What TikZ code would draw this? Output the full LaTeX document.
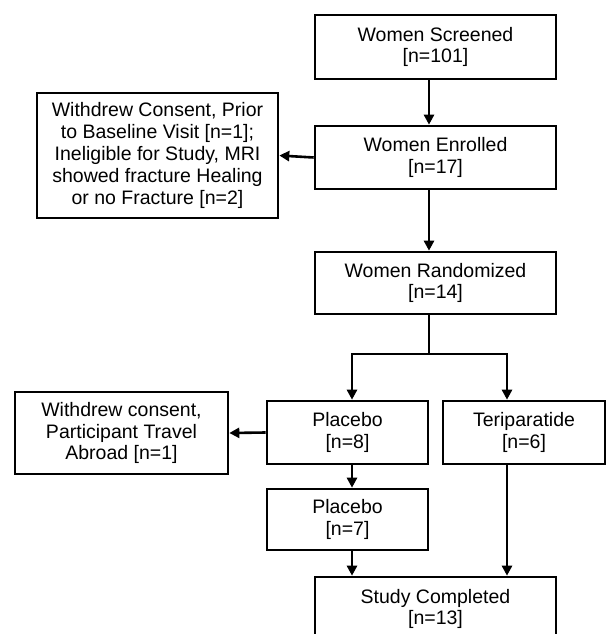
\documentclass[tikz,border=0pt]{standalone}
\usepackage{fontspec}
\setmainfont{Liberation Sans}
\usetikzlibrary{arrows.meta}
\begin{document}
\begin{tikzpicture}[x=1pt,y=-1pt,
  box/.style={draw=black,line width=2.6pt,rectangle,align=center,inner sep=0pt,
    font=\fontsize{19.5}{21.8}\selectfont},
  conn/.style={line width=2.6pt,-{Triangle[length=10pt,width=10pt]}},
  plain/.style={line width=2.6pt}]
\useasboundingbox (0,0) rectangle (611,634);
\clip (0,0) rectangle (611,634);
\node[box,minimum width=241pt,minimum height=64pt] (scr) at (435.5,47) {Women Screened\\{}[n=101]};
\node[box,minimum width=241pt,minimum height=63pt] (enr) at (435.5,157.5) {Women Enrolled\\{}[n=17]};
\node[box,minimum width=241pt,minimum height=125pt] (w1) at (157.5,155.5) {Withdrew Consent, Prior\\to Baseline Visit [n=1];\\Ineligible for Study, MRI\\showed fracture Healing\\or no Fracture [n=2]};
\node[box,minimum width=241pt,minimum height=62pt] (rnd) at (435.5,283) {Women Randomized\\{}[n=14]};
\node[box,minimum width=161pt,minimum height=63pt] (pl1) at (347.5,432.5) {Placebo\\{}[n=8]};
\node[box,minimum width=162pt,minimum height=63pt] (ter) at (524,432.5) {Teriparatide\\{}[n=6]};
\node[box,minimum width=213pt,minimum height=82pt] (w2) at (121.5,433) {Withdrew consent,\\Participant Travel\\Abroad [n=1]};
\node[box,minimum width=161pt,minimum height=61pt] (pl2) at (347.5,519.5) {Placebo\\{}[n=7]};
\node[box,minimum width=241pt,minimum height=64pt] (st) at (435.5,609) {Study Completed\\{}[n=13]};
\coordinate (br) at (429,354);
\draw[conn] (scr.south -| 429,0) -- (enr.north -| 429,0);
\draw[conn] (enr.south -| 429,0) -- (rnd.north -| 429,0);
\draw[conn] (enr.west) -- (w1.east);
\draw[plain] (rnd.south -| br) -- (br);
\draw[conn] (br) -| (pl1.north -| 352,0);
\draw[conn] (br) -| (ter.north -| 507,0);
\draw[conn] (pl1.west) -- (w2.east);
\draw[conn] (pl1.south -| 352,0) -- (pl2.north -| 352,0);
\draw[conn] (pl2.south -| 352,0) -- (st.north -| 352,0);
\draw[conn] (ter.south -| 507,0) -- (st.north -| 507,0);
\end{tikzpicture}
\end{document}
